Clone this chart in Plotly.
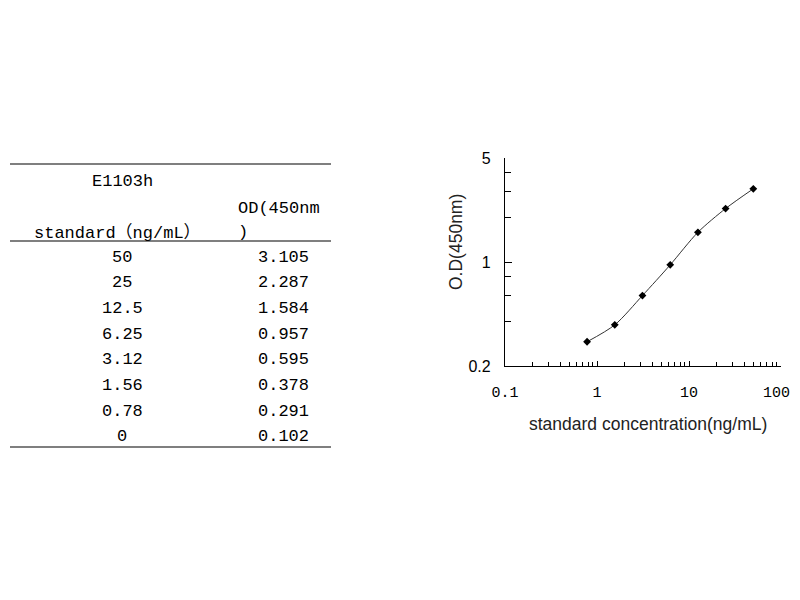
import plotly.graph_objects as go

# ── Data ───────────────────────────────────────────────────────────────────────
kit_name = "E1103h"
std_conc = ["50", "25", "12.5", "6.25", "3.12", "1.56", "0.78", "0"]
std_od = ["3.105", "2.287", "1.584", "0.957", "0.595", "0.378", "0.291", "0.102"]

curve_x = [0.78, 1.56, 3.12, 6.25, 12.5, 25, 50]
curve_y = [0.291, 0.378, 0.595, 0.957, 1.584, 2.287, 3.105]

x_ticks = [0.1, 1, 10, 100]
# trailing nbsp keeps the last label inside the window
x_ticktext = ["0.1", "1", "10", "100\u00a0"]
x_minor = [m * 10 ** e for e in (-1, 0, 1) for m in range(2, 10)]
y_ticks = [0.2, 1, 5]
y_ticktext = ["0.2", "1", "5"]
y_minor = [0.4, 0.6, 0.8, 2, 3, 4]

# page body has an 8px margin -> shift everything by it
OFF = 8
W, H = 800 - OFF, 600 - 2 * OFF
MONO = "Liberation Mono, Noto Sans CJK SC, monospace"
SANS = "Liberation Sans, Arial, sans-serif"


def px(x, y):
    """screen pixel position -> paper coords"""
    return (x - OFF) / W, 1 - (y - OFF) / H


fig = go.Figure()
fig.add_trace(go.Scatter(
    x=curve_x, y=curve_y, mode="lines+markers",
    line=dict(color="#333333", width=1, shape="spline", smoothing=0.8),
    marker=dict(symbol="diamond", size=6, color="black"),
    showlegend=False,
))

# ── Table (left) ───────────────────────────────────────────────────────────────
shapes = []
for yy in (164, 241, 447):
    x0, y0 = px(10, yy)
    x1, _ = px(331, yy)
    shapes.append(dict(type="line", xref="paper", yref="paper",
                       x0=x0, x1=x1, y0=y0, y1=y0,
                       line=dict(color="black", width=1.2)))

annotations = []


def txt(text, x, y, font=MONO, size=17, xanchor="center", angle=0, color="black"):
    ax, ay = px(x, y)
    annotations.append(dict(text=text, x=ax, y=ay, xref="paper", yref="paper",
                            showarrow=False, xanchor=xanchor, yanchor="middle",
                            textangle=angle,
                            font=dict(family=font, size=size, color=color)))


txt(kit_name, 122, 182)
txt("OD(450nm", 236, 208, xanchor="left")
txt(")", 236, 233, xanchor="left")
txt("standard（ng/mL）", 117, 233)
for i, (c, od) in enumerate(zip(std_conc, std_od)):
    yy = 257 + i * 25.7
    txt(c, 122, yy)
    txt(od, 283, yy)

# ── Axis titles ────────────────────────────────────────────────────────────────
txt("O.D(450nm)", 456, 242, font=SANS, size=17.5, angle=-90, color="#222222")
txt("standard concentration(ng/mL)", 648, 424, font=SANS, size=17.5, color="#222222")

xd0, yd0 = px(505, 366)
xd1, yd1 = px(781, 158)

fig.update_layout(
    width=W, height=H,
    margin=dict(l=0, r=0, t=0, b=0, autoexpand=False),
    paper_bgcolor="white", plot_bgcolor="white",
    shapes=shapes, annotations=annotations,
    xaxis=dict(
        type="log", range=[-1, 2], domain=[xd0, xd1],
        automargin=False,
        tickvals=x_ticks, ticktext=x_ticktext,
        ticks="inside", ticklen=5, tickcolor="black",
        minor=dict(tickvals=x_minor, ticks="inside", ticklen=4, tickcolor="black"),
        showline=True, linecolor="black", linewidth=1.2,
        showgrid=False, zeroline=False,
        tickfont=dict(family=MONO, size=15, color="black"),
        ticklabelstandoff=12, ticklabeloverflow="allow",
    ),
    yaxis=dict(
        type="log", range=[-0.69897, 0.69897], domain=[yd0, yd1],
        automargin=False,
        tickvals=y_ticks, ticktext=y_ticktext,
        ticks="inside", ticklen=7, tickcolor="black",
        minor=dict(tickvals=y_minor, ticks="inside", ticklen=6, tickcolor="black"),
        showline=True, linecolor="black", linewidth=1.2,
        showgrid=False, zeroline=False,
        tickfont=dict(family=SANS, size=16, color="black"),
        ticklabelstandoff=10,
    ),
)

fig.write_html("out.html")
